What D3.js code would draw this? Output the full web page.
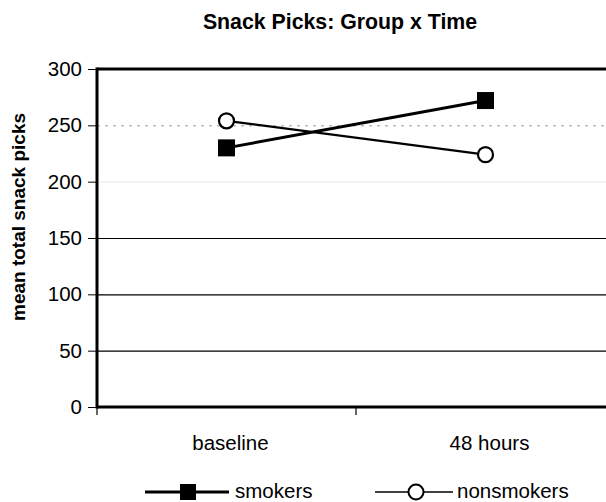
<!DOCTYPE html>
<html>
<head>
<meta charset="utf-8">
<script src="https://cdn.jsdelivr.net/npm/d3@7"></script>
<style>
  body { margin: 0; background: #fff; }
  text { font-family: "Liberation Sans", Arial, sans-serif; }
</style>
</head>
<body>
<div id="container"></div>
<script>
// categories and series
const categories = ["baseline", "48 hours"];
const smokers = [230, 272];
const nonsmokers = [254, 224];
const yTicks = [0, 50, 100, 150, 200, 250, 300];

const width = 606, height = 502;
const margin = {top: 69, right: -9, bottom: 95, left: 97};

const svg = d3.select("#container").append("svg")
    .attr("width", width)
    .attr("height", height);

const x = d3.scaleBand()
    .domain(categories)
    .range([margin.left, width - margin.right]);

const y = d3.scaleLinear()
    .domain([0, 300])
    .range([height - margin.bottom, margin.top]);

// gridlines (250 and 200 are almost lost in the scan)
svg.append("g")
    .selectAll("line")
    .data(yTicks.filter(d => d > 0 && d < 300))
    .join("line")
    .attr("x1", margin.left)
    .attr("x2", width)
    .attr("y1", d => y(d) + 0.5)
    .attr("y2", d => y(d) + 0.5)
    .attr("stroke", d => d === 250 ? "#999" : d === 200 ? "#eee" : "#000")
    .attr("stroke-dasharray", d => d === 250 ? "3,5" : null)
    .attr("stroke-width", d => d === 250 ? 1 : 1.2);

// top border at 300
svg.append("line")
    .attr("x1", margin.left).attr("x2", width)
    .attr("y1", y(300)).attr("y2", y(300))
    .attr("stroke", "#000").attr("stroke-width", 3);

// y axis
const yAxis = svg.append("g")
    .attr("transform", `translate(${margin.left},0)`)
    .call(d3.axisLeft(y).tickValues(yTicks).tickSize(9).tickPadding(6));
yAxis.select(".domain").remove();
yAxis.selectAll("text")
    .attr("font-size", 20.5)
    .attr("fill", "#000")
    .attr("font-family", "Liberation Sans, Arial, sans-serif");
yAxis.append("line")
    .attr("x1", 0).attr("x2", 0)
    .attr("y1", y(300) - 1.5).attr("y2", y(0) + 1.5)
    .attr("stroke", "#000").attr("stroke-width", 3);

// x axis
const xAxisY = y(0);
svg.append("line")
    .attr("x1", margin.left).attr("x2", width)
    .attr("y1", xAxisY).attr("y2", xAxisY)
    .attr("stroke", "#000").attr("stroke-width", 3);
svg.append("g")
    .selectAll("line")
    .data([x.range()[0], x("48 hours")])
    .join("line")
    .attr("x1", d => d).attr("x2", d => d)
    .attr("y1", xAxisY).attr("y2", xAxisY + 8)
    .attr("stroke", "#000").attr("stroke-width", 1.2);
svg.append("g")
    .selectAll("text")
    .data(categories)
    .join("text")
    .attr("x", d => x(d) + x.bandwidth() / 2 + 4)
    .attr("y", 450)
    .attr("text-anchor", "middle")
    .attr("font-size", 20.5)
    .text(d => d);

// title and y label
svg.append("text")
    .attr("x", 340).attr("y", 29)
    .attr("text-anchor", "middle")
    .attr("font-size", 21.3)
    .attr("font-weight", "bold")
    .text("Snack Picks: Group x Time");

svg.append("text")
    .attr("transform", "translate(25,217) rotate(-90)")
    .attr("text-anchor", "middle")
    .attr("font-size", 19)
    .attr("font-weight", "bold")
    .text("mean total snack picks");

// series
const cx = d => x(d) + x.bandwidth() / 2;
const line = d3.line()
    .x((d, i) => cx(categories[i]))
    .y(d => y(d));

svg.append("path")
    .datum(nonsmokers)
    .attr("d", line)
    .attr("fill", "none")
    .attr("stroke", "#000")
    .attr("stroke-width", 2.2);

svg.append("path")
    .datum(smokers)
    .attr("d", line)
    .attr("fill", "none")
    .attr("stroke", "#000")
    .attr("stroke-width", 3);

svg.append("g")
    .selectAll("rect")
    .data(smokers)
    .join("rect")
    .attr("x", (d, i) => cx(categories[i]) - 8.5)
    .attr("y", d => y(d) - 8.5)
    .attr("width", 17)
    .attr("height", 17)
    .attr("fill", "#000");

svg.append("g")
    .selectAll("circle")
    .data(nonsmokers)
    .join("circle")
    .attr("cx", (d, i) => cx(categories[i]))
    .attr("cy", d => y(d))
    .attr("r", 7.5)
    .attr("fill", "#fff")
    .attr("stroke", "#000")
    .attr("stroke-width", 2.2);

// legend
const legendY = 492;
const lg = svg.append("g");
lg.append("line")
    .attr("x1", 145).attr("x2", 229)
    .attr("y1", legendY).attr("y2", legendY)
    .attr("stroke", "#000").attr("stroke-width", 3);
lg.append("rect")
    .attr("x", 180).attr("y", legendY - 8)
    .attr("width", 16).attr("height", 16)
    .attr("fill", "#000");
lg.append("text")
    .attr("x", 235).attr("y", legendY + 6)
    .attr("font-size", 20.5)
    .text("smokers");

lg.append("line")
    .attr("x1", 375).attr("x2", 453)
    .attr("y1", legendY).attr("y2", legendY)
    .attr("stroke", "#000").attr("stroke-width", 1.5);
lg.append("circle")
    .attr("cx", 416).attr("cy", legendY)
    .attr("r", 7.5)
    .attr("fill", "#fff")
    .attr("stroke", "#000")
    .attr("stroke-width", 2);
lg.append("text")
    .attr("x", 457).attr("y", legendY + 6)
    .attr("font-size", 20.5)
    .text("nonsmokers");
</script>
</body>
</html>
